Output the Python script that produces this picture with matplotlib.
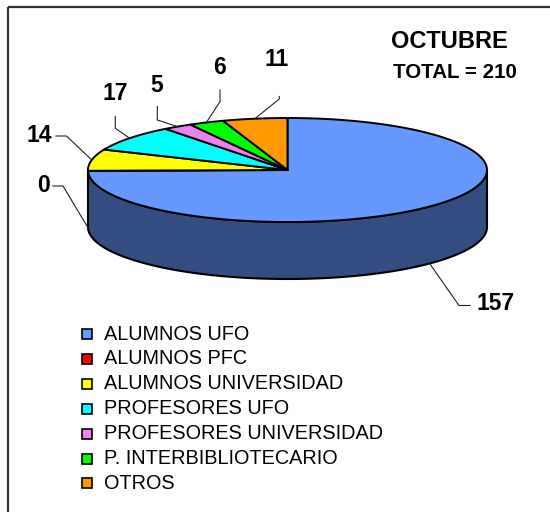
import numpy as np
import matplotlib
matplotlib.use("Agg")
import matplotlib.pyplot as plt
from matplotlib.patches import Polygon, Rectangle

# ---- data ----
categories = ["ALUMNOS UFO", "ALUMNOS PFC", "ALUMNOS UNIVERSIDAD", "PROFESORES UFO",
              "PROFESORES UNIVERSIDAD", "P. INTERBIBLIOTECARIO", "OTROS"]
values = [157, 0, 14, 17, 5, 6, 11]
colors = ["#6699ff", "#ff0000", "#ffff00", "#00ffff", "#ee80f0", "#00ff00", "#ff9900"]
side_color = "#334d80"
month = "OCTUBRE"

# label text positions (pixel-like coords) and elbow points of the leaders
label_pos = [(496, 303), (43, 185), (39, 135), (115, 94), (157, 85), (220, 67), (277, 60)]
leader_elbows = [[(470, 305.5), (459, 305.5)],
                 [(53, 186), (63, 186)],
                 [(56, 136), (66.5, 136)],
                 [(115.3, 116.5), (115.3, 128.3)],
                 [(157.3, 106.5), (157.3, 120)],
                 [(220, 90), (220, 101.7)],
                 [(279.3, 96.5), (279.3, 99)]]

# ---- geometry of the 3D pie ----
cx, cy, rx, ry, depth = 287.5, 170.0, 199.5, 52.0, 57.0

fig = plt.figure(figsize=(5.5, 5.12), dpi=100)
ax = fig.add_axes([0, 0, 1, 1])
ax.set_xlim(0, 550)
ax.set_ylim(512, 0)
ax.axis("off")

def ell(theta_deg):
    t = np.radians(theta_deg)
    return cx + rx * np.cos(t), cy - ry * np.sin(t)

total = sum(values)
bounds = [90.0]
for v in values:
    bounds.append(bounds[-1] - v / total * 360.0)

# side wall (front half, covered by the first slice)
th = np.linspace(180, 360, 200)
xs, ys = ell(th)
side = np.concatenate([np.column_stack([xs, ys]),
                       np.column_stack([xs[::-1], ys[::-1] + depth])])
ax.add_patch(Polygon(side, closed=True, facecolor=side_color, edgecolor="black",
                     linewidth=1.5, joinstyle="round", zorder=2))

# top faces
for i, v in enumerate(values):
    a1, a2 = bounds[i], bounds[i + 1]
    n = max(2, int(abs(a1 - a2) * 2))
    th = np.linspace(a1, a2, n)
    xs, ys = ell(th)
    pts = np.vstack([[cx, cy], np.column_stack([xs, ys])])
    ax.add_patch(Polygon(pts, closed=True, facecolor=colors[i], edgecolor="black",
                         linewidth=1.4, joinstyle="round", zorder=3 + i * 0.01))

# data labels with leader lines
for i, v in enumerate(values):
    mid = (bounds[i] + bounds[i + 1]) / 2.0
    ex, ey = ell(mid)
    if np.sin(np.radians(mid)) < 0:
        ey += depth
    (x0, y0), (x1, y1) = leader_elbows[i]
    ax.plot([x0, x1, ex], [y0, y1, ey], color="#222222", linewidth=0.8, zorder=5)
    ax.text(label_pos[i][0], label_pos[i][1], str(v), ha="center", va="center",
            fontsize=16.5, fontweight="bold", family="Liberation Sans", zorder=6)

# title
ax.text(449, 42, month, ha="center", va="center", fontsize=17, fontweight="bold",
        family="Liberation Sans")
ax.text(455, 73, f"TOTAL = {total}", ha="center", va="center", fontsize=14.8,
        fontweight="bold", family="Liberation Sans")

# legend
for i, name in enumerate(categories):
    y = 334 + i * 24.9
    ax.add_patch(Rectangle((82, y - 5), 10, 10, facecolor=colors[i], edgecolor="black",
                           linewidth=1.2, zorder=4))
    ax.text(104, y, name, ha="left", va="center", fontsize=14.3, family="Liberation Sans")

# outer frame (only top & left visible)
ax.add_patch(Rectangle((7.5, 6.5), 700, 700, fill=False, edgecolor="#333333",
                       linewidth=1.6, zorder=1))

fig.savefig("out.png", dpi=100)
